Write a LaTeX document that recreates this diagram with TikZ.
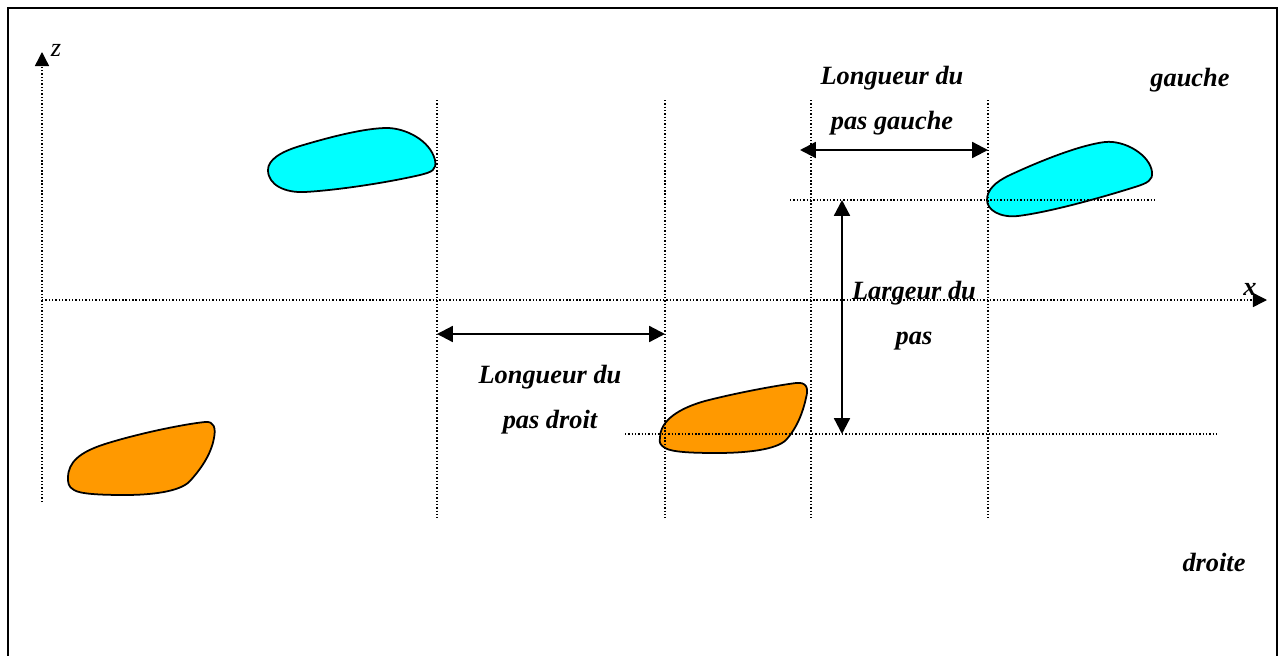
\documentclass[tikz,border=0pt]{standalone}
\usepackage{fontspec}
\setmainfont{Liberation Serif}
\usetikzlibrary{arrows.meta}
\definecolor{piedgauche}{RGB}{0,255,255}
\definecolor{pieddroit}{RGB}{255,153,0}
\tikzstyle{guide} = [line width=0.8pt, dash pattern=on 0.8pt off 1.1pt]
\tikzstyle{axisline} = [guide, -{Triangle[length=8pt,width=8pt]}]
\tikzstyle{arrow} = [line width=1.3pt, {Triangle[length=9pt,width=9pt]}-{Triangle[length=9pt,width=9pt]}]
\tikzstyle{steptext} = [font=\fontsize{15}{25.5}\selectfont\bfseries\itshape, align=center, inner sep=0pt]
\tikzstyle{axistext} = [font=\fontsize{15}{18}\selectfont\itshape, inner sep=0pt]
\tikzstyle{gauche} = [draw=black, line width=1pt, fill=piedgauche]
\tikzstyle{droit} = [draw=black, line width=1pt, fill=pieddroit]

\begin{document}
\begin{tikzpicture}[x=0.02cm, y=-0.02cm]
	\useasboundingbox (0,0) rectangle (1282,656);
	% cadre
	\draw[line width=1.3pt] (8,670) -- (8,8) -- (1277,8) -- (1277,670);

	% pieds gauches
	\draw[gauche] (268,170) .. controls (268,160) and (280,152) .. (300,146)
		.. controls (330,137) and (365,128) .. (387,128)
		.. controls (405,128) and (430,140) .. (435,160)
		.. controls (437,170) and (432,172) .. (420,175)
		.. controls (390,182) and (340,190) .. (305,192)
		.. controls (285,193) and (268,185) .. cycle;
	\draw[gauche] (987,200) .. controls (987,190) and (995,182) .. (1010,175)
		.. controls (1040,161) and (1080,145) .. (1105,142)
		.. controls (1125,140) and (1150,155) .. (1152,172)
		.. controls (1153,180) and (1148,183) .. (1135,187)
		.. controls (1100,198) and (1050,212) .. (1018,216)
		.. controls (1000,218) and (987,210) .. cycle;
	% pieds droits
	\draw[droit] (68,478) .. controls (68,462) and (80,452) .. (105,444)
		.. controls (140,433) and (185,424) .. (205,422)
		.. controls (214,421) and (216,428) .. (214,438)
		.. controls (211,455) and (200,470) .. (190,481)
		.. controls (180,492) and (150,495) .. (125,495)
		.. controls (100,495) and (80,494) .. (74,490)
		.. controls (68,487) and (68,482) .. cycle;
	\draw[droit] (660,438) .. controls (660,420) and (680,408) .. (705,401)
		.. controls (740,392) and (780,385) .. (796,383)
		.. controls (806,382) and (809,387) .. (806,398)
		.. controls (803,412) and (797,428) .. (786,440)
		.. controls (776,450) and (745,453) .. (717,453)
		.. controls (690,453) and (672,452) .. (665,448)
		.. controls (660,445) and (659,442) .. cycle;

	% axes
	\coordinate (zbot) at (42,502);
	\coordinate (ztop) at (42,52);
	\coordinate (xleft) at (42,300);
	\coordinate (xright) at (1267,300);
	\draw[axisline] (zbot) -- (ztop);
	\draw[axisline] (xleft) -- (xright);
	\node (zlab) [axistext] at (56,50) {z};
	\node (xlab) [axistext] at (1250,289) {\bfseries x};

	% reperes
	\foreach \gx in {437,665,811,988}
		\draw[guide] (\gx,100) -- (\gx,518);
	\draw[guide] (790,200) -- (1155,200);
	\draw[guide] (625,434) -- (1218,434);

	% cotes
	\coordinate (gA) at (800,150);
	\coordinate (gB) at (988,150);
	\coordinate (lA) at (842,200);
	\coordinate (lB) at (842,434);
	\coordinate (dA) at (437,334);
	\coordinate (dB) at (665,334);
	\draw[arrow] (gA) -- (gB);
	\draw[arrow] (lA) -- (lB);
	\draw[arrow] (dA) -- (dB);

	\node (longg) [steptext] at (892,101) {Longueur du\\pas gauche};
	\node (larg) [steptext] at (914,316) {Largeur du\\pas};
	\node (longd) [steptext] at (550,400) {Longueur du\\pas droit};
	\node (gauche) [steptext] at (1190,80) {gauche};
	\node (droite) [steptext] at (1214,562) {droite};
\end{tikzpicture}
\end{document}
